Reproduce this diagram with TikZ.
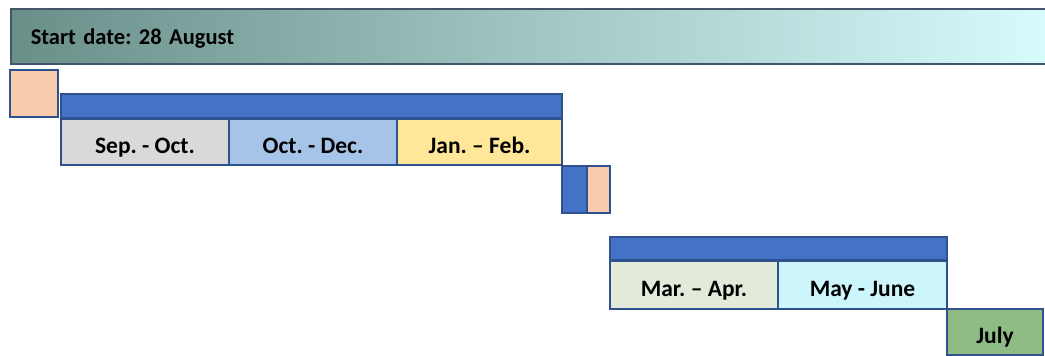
\documentclass[tikz,border=0pt]{standalone}
\usepackage{fontspec}
\setmainfont{Carlito}
\usepackage{xcolor}
\frenchspacing

\definecolor{edgeblue}{HTML}{2F528F}
\definecolor{edgegray}{HTML}{44546A}
\definecolor{peach}{HTML}{F8CBAD}
\definecolor{barblue}{HTML}{4472C4}
\definecolor{sepgray}{HTML}{D9D9D9}
\definecolor{octblue}{HTML}{A6C3E8}
\definecolor{janyellow}{HTML}{FFE699}
\definecolor{margreen}{HTML}{E2EBDA}
\definecolor{maycyan}{HTML}{CCF6FB}
\definecolor{julygreen}{HTML}{8FBC84}
\definecolor{startdark}{HTML}{6A8F89}
\definecolor{startlight}{HTML}{D8FEFE}

\tikzset{
  cell/.style={draw=edgeblue, line width=1.5pt, rectangle, anchor=north west,
    inner sep=0pt, outer sep=0pt, font=\bfseries\fontsize{23.5}{27}\selectfont,
    text height=23pt, text depth=0pt},
}

\begin{document}
\begin{tikzpicture}[x=1pt, y=-1pt]
\useasboundingbox (0,0) rectangle (1045,356);

\node (start) at (10,8) [draw=edgegray, line width=1.5pt, anchor=north west,
  left color=startdark, right color=startlight, minimum height=55pt,
  text width=1020pt, inner xsep=20pt, inner ysep=0pt, align=left,
  font=\bfseries\fontsize{22.5}{26}\selectfont, text height=16pt, text depth=0pt]
  {Start date: 28 August};

\node (pre) at (10,70) [cell, fill=peach, minimum width=48pt, minimum height=47pt] {};
\node (bar1) at (61,94) [cell, fill=barblue, minimum width=501pt, minimum height=24pt] {};

\node (sep) at (61,119) [cell, fill=sepgray, minimum width=168pt, minimum height=46pt] {Sep. - Oct.};
\node (oct) at (229,119) [cell, fill=octblue, minimum width=168pt, minimum height=46pt] {Oct. - Dec.};
\node (jan) at (397,119) [cell, fill=janyellow, minimum width=165pt, minimum height=46pt] {Jan. -- Feb.};

\node (gapblue) at (562,166) [cell, fill=barblue, minimum width=25pt, minimum height=47pt] {};
\node (gappeach) at (587,166) [cell, fill=peach, minimum width=23pt, minimum height=47pt] {};

\node (bar2) at (610,237) [cell, fill=barblue, minimum width=337pt, minimum height=20pt] {};

\node (mar) at (610,261) [cell, fill=margreen, minimum width=168pt, minimum height=48pt] {Mar. -- Apr.};
\node (may) at (778,261) [cell, fill=maycyan, minimum width=169pt, minimum height=48pt] {May - June};

\node (july) at (947,309) [cell, fill=julygreen, minimum width=96pt, minimum height=46pt] {July};
\end{tikzpicture}
\end{document}
